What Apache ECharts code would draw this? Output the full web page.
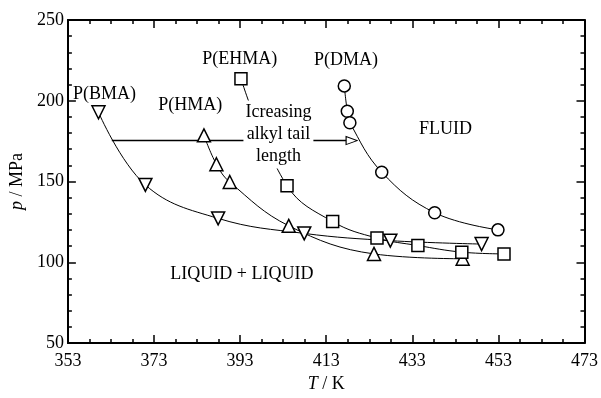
<!DOCTYPE html>
<html>
<head>
<meta charset="utf-8">
<script src="https://cdn.jsdelivr.net/npm/echarts@6.0.0/dist/echarts.min.js"></script>
<style>
  html, body { margin: 0; padding: 0; background: #fff; }
  #chart { width: 601px; height: 398px; }
</style>
</head>
<body>
<div id="chart"></div>
<script>
// Axis ranges
const xMin = 353, xMax = 473, xStep = 20;
const yMin = 50, yMax = 250, yStep = 50;

// P(BMA) – down triangles
const bmaT = [360.1, 371.0, 387.9, 407.9, 427.9, 449.1];
const bmaP = [192.9, 147.9, 127.2, 117.9, 113.4, 111.3];
// P(HMA) – up triangles
const hmaT = [384.6, 387.5, 390.6, 404.3, 424.1, 444.7];
const hmaP = [178.6, 160.7, 149.7, 122.6, 105.2, 102.2];
// P(EHMA) – squares
const ehmaT = [393.2, 403.9, 414.5, 424.8, 434.3, 444.5, 454.3];
const ehmaP = [213.7, 147.4, 125.2, 115.0, 110.4, 106.3, 105.2];
// P(DMA) – circles
const dmaT = [417.2, 417.9, 418.5, 425.9, 438.2, 452.9];
const dmaP = [209.2, 193.5, 186.4, 155.8, 130.7, 120.1];

// Arrow "increasing alkyl tail length"
const arrowT = [363.2, 418.9];
const arrowP = [175.4, 175.4];

// Text annotations [T, p, text]
const notes = [
  [361.5, 204.1, 'P(BMA)'],
  [381.4, 197.4, 'P(HMA)'],
  [392.9, 225.5, 'P(EHMA)'],
  [417.6, 224.9, 'P(DMA)'],
  [440.7, 182.1, 'FLUID'],
  [393.4, 92.8, 'LIQUID + LIQUID']
];
const boxNote = [401.9, 179.1, 'Icreasing\nalkyl tail\nlength'];

const FONT = 'Liberation Serif';
const zip = (a, b) => a.map((v, i) => [v, b[i]]);

function curve(name, T, P, symbol, rotate, size) {
  return {
    name, type: 'line', data: zip(T, P),
    smooth: 0.4,
    symbol, symbolSize: size, symbolRotate: rotate,
    showAllSymbol: true,
    lineStyle: { color: '#000', width: 1 },
    itemStyle: { color: '#fff', borderColor: '#000', borderWidth: 1.5 },
    z: 3
  };
}

const baseX = {
  type: 'value', min: xMin, max: xMax, interval: xStep,
  axisLine: { show: true, lineStyle: { color: '#000', width: 2 } },
  axisTick: { show: true, inside: true, length: 8, lineStyle: { color: '#000', width: 1.5 } },
  minorTick: { show: true, splitNumber: 4, length: 4, lineStyle: { color: '#000', width: 1.5 } },
  splitLine: { show: false }
};
const baseY = {
  type: 'value', min: yMin, max: yMax, interval: yStep,
  axisLine: { show: true, lineStyle: { color: '#000', width: 2 } },
  axisTick: { show: true, inside: true, length: 8, lineStyle: { color: '#000', width: 1.5 } },
  minorTick: { show: true, splitNumber: 5, length: 4, lineStyle: { color: '#000', width: 1.5 } },
  splitLine: { show: false }
};

const labelText = {
  show: true, position: 'inside', formatter: p => p.name,
  color: '#000', fontFamily: FONT, fontSize: 18,
  textBorderWidth: 0, textBorderColor: 'transparent', opacity: 1
};

const chart = echarts.init(document.getElementById('chart'));
chart.setOption({
  animation: false,
  backgroundColor: '#fff',
  grid: { left: 67, right: 14, top: 20, bottom: 51 },
  xAxis: [
    Object.assign({}, baseX, {
      position: 'bottom',
      axisLabel: { color: '#000', fontFamily: FONT, fontSize: 18, margin: 9 },
      name: '{i|T} / K', nameLocation: 'middle', nameGap: 29,
      nameTextStyle: { color: '#000', fontFamily: FONT, fontSize: 18,
        rich: { i: { fontStyle: 'italic', fontFamily: FONT, fontSize: 18, color: '#000' } } }
    }),
    Object.assign({}, baseX, { position: 'top', axisLabel: { show: false } })
  ],
  yAxis: [
    Object.assign({}, baseY, {
      position: 'left',
      axisLabel: { color: '#000', fontFamily: FONT, fontSize: 18, margin: 4 },
      name: '{i|p} / MPa', nameLocation: 'middle', nameGap: 38, nameRotate: 90,
      nameTextStyle: { color: '#000', fontFamily: FONT, fontSize: 18,
        rich: { i: { fontStyle: 'italic', fontFamily: FONT, fontSize: 18, color: '#000' } } }
    }),
    Object.assign({}, baseY, { position: 'right', axisLabel: { show: false } })
  ],
  series: [
    curve('P(BMA)', bmaT, bmaP, 'triangle', 180, 13),
    curve('P(HMA)', hmaT, hmaP, 'triangle', 0, 13),
    curve('P(EHMA)', ehmaT, ehmaP, 'rect', 0, 12),
    curve('P(DMA)', dmaT, dmaP, 'circle', 0, 12),
    {
      type: 'line',
      data: zip(arrowT, arrowP).map((v, i) => i === arrowT.length - 1
        ? { value: v, symbol: 'triangle', symbolSize: [8, 11], symbolRotate: -90 }
        : { value: v, symbol: 'none' }),
      lineStyle: { color: '#000', width: 1.5 },
      itemStyle: { color: '#fff', borderColor: '#000', borderWidth: 1 },
      z: 2
    },
    {
      type: 'scatter',
      symbolSize: 0,
      itemStyle: { color: '#000' },
      data: notes.map(n => ({ value: [n[0], n[1]], name: n[2] })),
      label: labelText,
      emphasis: { disabled: true },
      z: 10
    },
    {
      type: 'scatter',
      symbolSize: 0,
      itemStyle: { color: '#000' },
      data: [{ value: [boxNote[0], boxNote[1]], name: boxNote[2] }],
      label: Object.assign({}, labelText, { lineHeight: 22,
        backgroundColor: '#fff', padding: [1, 2], align: 'center' }),
      emphasis: { disabled: true },
      z: 10
    }
  ]
});
</script>
</body>
</html>
